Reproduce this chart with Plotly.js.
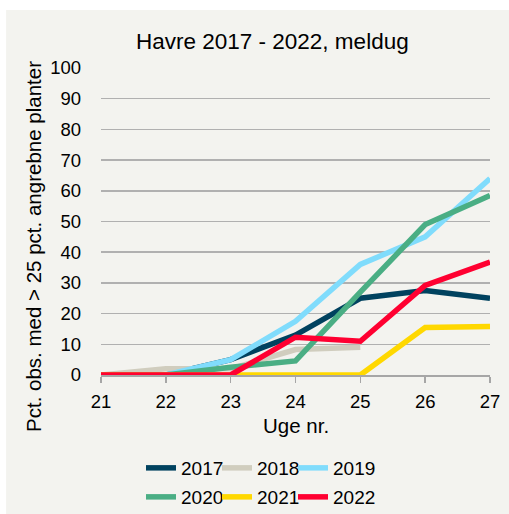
<!DOCTYPE html>
<html>
<head>
<meta charset="utf-8">
<script src="https://cdn.plot.ly/plotly-3.0.1.min.js"></script>
<style>html,body{margin:0;padding:0;background:#fff;}#chart{width:509px;height:514px;}</style>
</head>
<body>
<div id="chart"></div>
<script>
const weeks = [21, 22, 23, 24, 25, 26, 27];
const seriesNames = ["2017", "2018", "2019", "2020", "2021", "2022"];
const v2017 = [0, 0, 5, 13, 25, 27.5, 25];
const v2018 = [0, 2, 2, 8.3, 9, null, null];
const v2019 = [0, 0, 5, 17.5, 36, 45, 64];
const v2020 = [0, 0, 2.5, 4.6, 27, 49, 58.5];
const v2021 = [0, 0, 0, 0, 0, 15.5, 15.8];
const v2022 = [0, 0, 0, 12.3, 11, 29.2, 36.8];
const seriesColors = ["#00425f", "#d0cdbe", "#80dcfc", "#4aae84", "#ffd800", "#ff0031"];
const yTicks = [0, 10, 20, 30, 40, 50, 60, 70, 80, 90, 100];

const values = [v2017, v2018, v2019, v2020, v2021, v2022];
const legendIds = values.map((v, i) => i === 0 ? "legend" : "legend" + (i + 1));
const traces = values.map((v, i) => ({
  x: weeks, y: v, name: seriesNames[i], type: "scatter", mode: "lines",
  line: {color: seriesColors[i], width: 5.5, shape: "linear"},
  connectgaps: false,
  legend: legendIds[i]
}));

const bg = "#f3f3ef";
const colLeft = [141, 217, 293];
const rowMid = [468, 497];

const layout = {
  width: 509, height: 514,
  margin: {l: 101, r: 19, t: 68, b: 139},
  paper_bgcolor: "#ffffff",
  plot_bgcolor: bg,
  font: {family: "Liberation Sans, Arial, sans-serif", color: "#000"},
  showlegend: true,
  xaxis: {
    range: [21, 27], tickvals: weeks, ticktext: weeks.map(String),
    showgrid: false, zeroline: false, showline: true, linecolor: "#a6a6a6", linewidth: 1.5,
    ticks: "outside", ticklen: 6, tickcolor: "#a6a6a6", tickwidth: 1.5, ticklabelstandoff: 3,
    tickfont: {size: 18.5, color: "#000"}, fixedrange: true
  },
  yaxis: {
    range: [0, 100], tickvals: yTicks, ticktext: yTicks.map(String),
    showgrid: true, gridcolor: "#b0b0b0", gridwidth: 1.5, zeroline: false, showline: false,
    ticks: "", ticklabelstandoff: 19,
    tickfont: {size: 18.5, color: "#000"}, fixedrange: true
  },
  shapes: [{
    type: "rect", xref: "paper", yref: "paper", layer: "below",
    x0: -0.244, x1: 1.1, y0: -0.5, y1: 1.189,
    fillcolor: bg, line: {width: 0}
  }],
  annotations: [
    {text: "Havre 2017 - 2022, meldug", xref: "paper", yref: "paper", x: 0.44, y: 1.085,
     showarrow: false, xanchor: "center", yanchor: "middle", font: {size: 22.5, color: "#000"}},
    {text: "Pct. obs. med > 25 pct. angrebne planter", xref: "paper", yref: "paper", x: -0.175, y: 0.42,
     showarrow: false, textangle: -90, xanchor: "center", yanchor: "middle", font: {size: 20.5, color: "#000"}},
    {text: "Uge nr.", xref: "paper", yref: "paper", x: 0.5, y: -0.163,
     showarrow: false, xanchor: "center", yanchor: "middle", font: {size: 20.5, color: "#000"}}
  ]
};
legendIds.forEach((id, i) => {
  layout[id] = {
    orientation: "h", xref: "container", yref: "container", xanchor: "left", yanchor: "middle",
    x: colLeft[i % 3] / 509, y: 1 - rowMid[Math.floor(i / 3)] / 514,
    font: {size: 19, color: "#000"}, bgcolor: "rgba(0,0,0,0)", itemwidth: 30
  };
});
Plotly.newPlot("chart", traces, layout, {displayModeBar: false, staticPlot: true});
</script>
</body>
</html>
